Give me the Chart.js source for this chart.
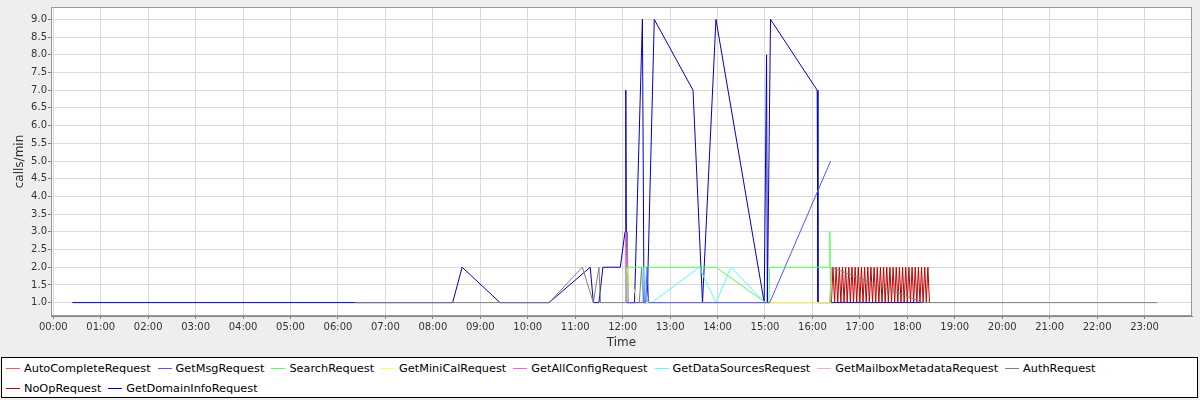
<!DOCTYPE html>
<html>
<head>
<meta charset="utf-8">
<script src="https://cdn.jsdelivr.net/npm/chart.js"></script>
<style>
html, body { margin: 0; padding: 0; background: #eeeeee; }
#wrap { position: relative; width: 1200px; height: 400px; overflow: hidden; }
#chart { position: absolute; left: 0; top: 0; }
#legend {
  position: absolute; left: 1px; top: 357px; width: 1197px; height: 41px;
  box-sizing: border-box; border: 1px solid #000; background: #fff;
  font-family: "DejaVu Sans", sans-serif; font-size: 11.3px; color: #000;
  padding-left: 4px;
}
#legend .row { height: 20px; display: flex; align-items: center; white-space: nowrap; }
#legend .item { display: inline-flex; align-items: center; margin-right: 7px; }
#legend .swatch { width: 14px; height: 1px; margin-right: 4px; }
</style>
</head>
<body>
<div id="wrap">
  <canvas id="chart" width="1200" height="400"></canvas>
  <div id="legend"></div>
</div>
<script>
// ---- Data (time "HH:MM", calls/min) ----
const AUTO_COMPLETE = [["16:24",1]];
const GET_MSG = [["12:05",1],["12:29",1],["12:31",2],["12:33",1],["15:06",1],["16:23",5]];
const SEARCH = [["12:04",1],["12:05",2],["13:58",2],["15:01",1],["15:05",1],["15:06",2],["16:21",2],["16:22",3],["16:23",1]];
const GET_MINI_CAL = [["12:05",2],["12:20",1],["16:23",1]];
const GET_ALL_CONFIG = [["12:03",1],["12:04",3],["12:05",1]];
const GET_DATA_SOURCES = [["12:25",1],["12:27",2],["12:32",1],["12:37",1],["13:37",2],["13:58",1],["14:17",2],["15:00",1]];
const GET_MAILBOX_METADATA = [["16:23",1],["16:24",2]];
const AUTH = [["06:21",1],["10:27",1],["11:09",2],["11:23",1],["11:30",2],["11:32",1],["12:04",1],["12:06",3],["12:07",1],["12:21",1],["12:24",2],["12:26",1],["16:22",1],["16:24",2],["18:20",1],["23:16",1]];
const NO_OP = [["16:24",1],["16:26",2],["16:28",1],["16:30",2],["16:32",1],["16:34",2],["16:36",1],["16:38",2],["16:40",1],["16:42",2],["16:44",1],["16:46",2],["16:48",1],["16:50",2],["16:52",1],["16:54",2],["16:56",1],["16:58",2],["17:00",1],["17:02",2],["17:04",1],["17:06",2],["17:08",1],["17:10",2],["17:12",1],["17:14",2],["17:16",1],["17:18",2],["17:20",1],["17:22",2],["17:24",1],["17:26",2],["17:28",1],["17:30",2],["17:32",1],["17:34",2],["17:36",1],["17:38",2],["17:40",1],["17:42",2],["17:44",1],["17:46",2],["17:48",1],["17:50",2],["17:52",1],["17:54",2],["17:56",1],["17:58",2],["18:00",1],["18:02",2],["18:04",1],["18:06",2],["18:08",1],["18:10",2],["18:12",1],["18:14",2],["18:16",1],["18:18",2],["18:20",1],["18:22",2],["18:24",1],["18:26",2],["18:28",1]];
const GET_DOMAIN_INFO = [["00:24",1],["08:25",1],["08:37",2],["09:25",1],["10:27",1],["11:19",2],["11:23",1],["11:30",1],["11:35",2],["11:57",2],["12:03",3],["12:04",7],["12:05",1],["12:15",1],["12:25",9],["12:27",1],["12:31",1],["12:40",9],["13:29",7],["13:41",1],["13:58",9],["14:59",1],["15:02",8],["15:03",1],["15:07",9],["16:06",7],["16:07",1],["18:20",1]];

const SERIES_NAMES = ["AutoCompleteRequest","GetMsgRequest","SearchRequest","GetMiniCalRequest","GetAllConfigRequest","GetDataSourcesRequest","GetMailboxMetadataRequest","AuthRequest","NoOpRequest","GetDomainInfoRequest"];
const SERIES_POINTS = [AUTO_COMPLETE, GET_MSG, SEARCH, GET_MINI_CAL, GET_ALL_CONFIG, GET_DATA_SOURCES, GET_MAILBOX_METADATA, AUTH, NO_OP, GET_DOMAIN_INFO];
const SERIES_COLORS = ["#FF5555","#5555FF","#55FF55","#FFFF55","#FF55FF","#55FFFF","#FFAFAF","#808080","#C00000","#0000C0"];

const HOUR_LABELS = ["00:00","01:00","02:00","03:00","04:00","05:00","06:00","07:00","08:00","09:00","10:00","11:00","12:00","13:00","14:00","15:00","16:00","17:00","18:00","19:00","20:00","21:00","22:00","23:00"];
const Y_TICKS = [1.0,1.5,2.0,2.5,3.0,3.5,4.0,4.5,5.0,5.5,6.0,6.5,7.0,7.5,8.0,8.5,9.0];

// ---- Build ----
const toMin = s => { const p = s.split(':').map(Number); return p[0] * 60 + p[1]; };

const datasets = SERIES_NAMES.map((name, i) => ({
  label: name,
  data: SERIES_POINTS[i].map(([t, v]) => ({ x: toMin(t), y: v })),
  borderColor: SERIES_COLORS[i],
  backgroundColor: SERIES_COLORS[i],
  borderWidth: 1,
  pointRadius: 0,
  pointHoverRadius: 0,
  tension: 0,
  fill: false
}));

const plotFrame = {
  id: 'plotFrame',
  beforeDraw(chart) {
    const { ctx, chartArea: a } = chart;
    ctx.save();
    ctx.fillStyle = '#ffffff';
    ctx.fillRect(a.left, a.top, a.right - a.left, a.bottom - a.top);
    ctx.restore();
  },
  afterDraw(chart) {
    const { ctx, chartArea: a } = chart;
    ctx.save();
    ctx.strokeStyle = '#999999';
    ctx.lineWidth = 1;
    ctx.strokeRect(a.left + 0.5, a.top + 0.5, a.right - a.left - 1, a.bottom - a.top - 1);
    ctx.restore();
  }
};

const tickFont = { family: '"DejaVu Sans", sans-serif', size: 10 };
const titleFont = { family: '"DejaVu Sans", sans-serif', size: 12 };

new Chart(document.getElementById('chart'), {
  type: 'line',
  data: { datasets },
  options: {
    responsive: false,
    animation: false,
    events: [],
    layout: { padding: { top: 4, right: 8, bottom: 50, left: 0 } },
    plugins: { legend: { display: false }, tooltip: { enabled: false } },
    scales: {
      x: {
        type: 'linear',
        min: -2.9,
        max: 1440,
        afterBuildTicks(scale) { scale.ticks = HOUR_LABELS.map((_, i) => ({ value: i * 60 })); },
        afterFit(scale) { scale.height = 34; },
        ticks: {
          autoSkip: false, maxRotation: 0, minRotation: 0, padding: 2,
          color: '#333333', font: tickFont,
          callback: (v, i) => HOUR_LABELS[i]
        },
        grid: { color: '#dadada', lineWidth: 1, borderDash: [2, 2], tickLength: 3, tickColor: '#808080', tickBorderDash: [], tickWidth: 1 },
        border: { display: true, color: '#888888', width: 1 },
        title: { display: true, text: 'Time', color: '#333333', font: titleFont, padding: { top: 0, bottom: 0 } }
      },
      y: {
        type: 'linear',
        min: 0.62238,
        max: 9.34965,
        afterBuildTicks(scale) { scale.ticks = Y_TICKS.map(v => ({ value: v })); },
        afterFit(scale) { scale.width = 51; },
        ticks: {
          autoSkip: false, padding: 1, color: '#333333', font: tickFont,
          callback: v => Number(v).toFixed(1)
        },
        grid: { color: '#dadada', lineWidth: 1, borderDash: [2, 2], tickLength: 3, tickColor: '#808080', tickBorderDash: [], tickWidth: 1 },
        border: { display: true, color: '#888888', width: 1 },
        title: { display: true, text: 'calls/min', color: '#333333', font: titleFont, padding: { top: 13, bottom: 0 } }
      }
    }
  },
  plugins: [plotFrame]
});

// ---- Legend (HTML, real text) ----
const legend = document.getElementById('legend');
const ROW_SPLIT = 8;
[SERIES_NAMES.slice(0, ROW_SPLIT), SERIES_NAMES.slice(ROW_SPLIT)].forEach((names, r) => {
  const row = document.createElement('div');
  row.className = 'row';
  names.forEach((name, j) => {
    const idx = r * ROW_SPLIT + j;
    const item = document.createElement('span');
    item.className = 'item';
    const sw = document.createElement('span');
    sw.className = 'swatch';
    sw.style.background = SERIES_COLORS[idx];
    const txt = document.createElement('span');
    txt.textContent = name;
    item.appendChild(sw);
    item.appendChild(txt);
    row.appendChild(item);
  });
  legend.appendChild(row);
});
</script>
</body>
</html>
